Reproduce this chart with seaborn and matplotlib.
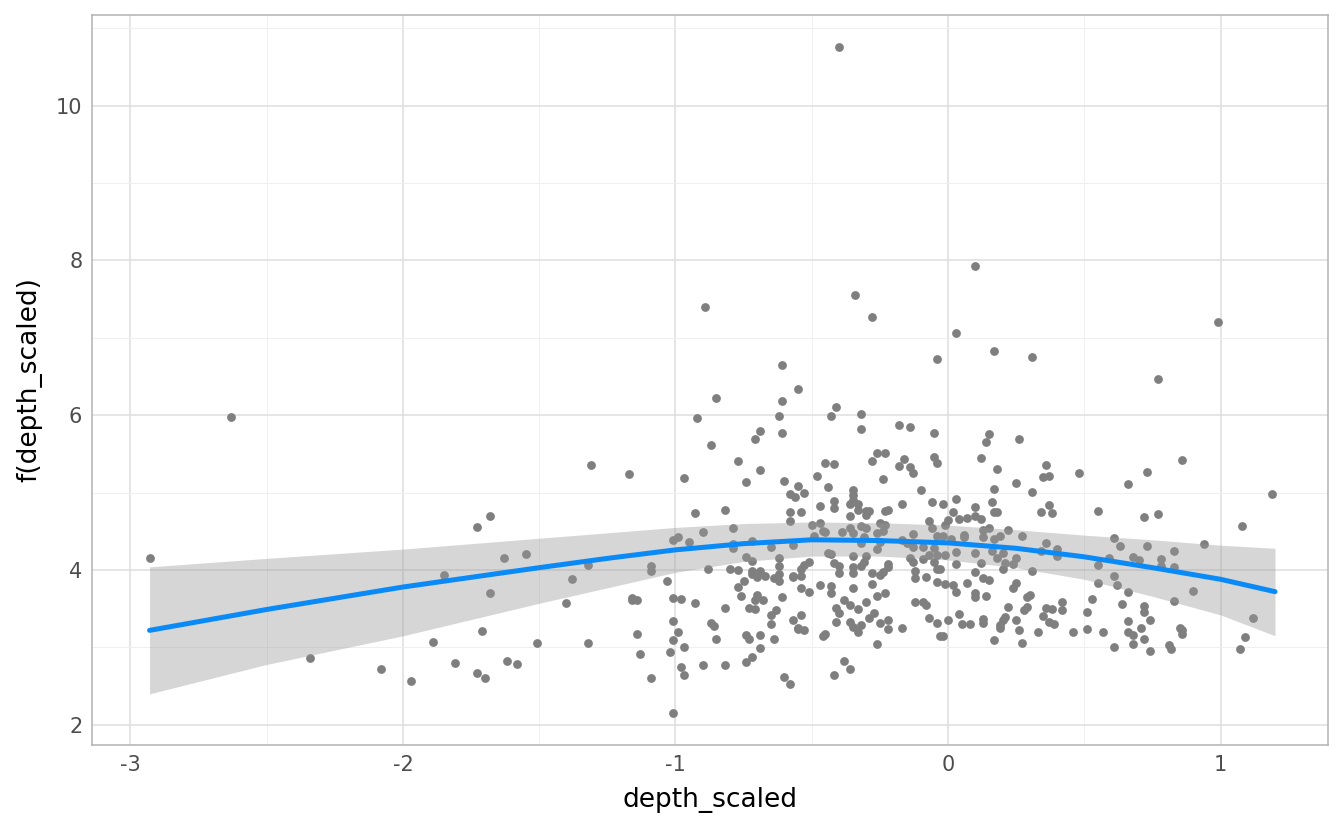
import matplotlib
matplotlib.use("Agg")
import matplotlib.pyplot as plt
import seaborn as sns
import pandas as pd
from matplotlib.ticker import MultipleLocator

# scatter points
depth_x = [
    -2.93, -2.63, -2.34, -2.08, -1.97, -1.89, -1.85, -1.81, -1.73, -1.73, -1.71, -1.70, -1.68, -1.68,
    -1.63, -1.62, -1.58, -1.55, -1.51, -1.40, -1.38, -1.31, -1.32, -1.32, -1.17, -1.16, -1.16, -1.14,
    -1.14, -1.13, -1.09, -1.09, -1.09,
    -0.89, -0.61, -0.55, -0.85, -0.61, -0.92, -0.62, -0.69, -0.71, -0.61, -0.87, -0.77, -0.69, -0.97,
    -0.74, -0.60, -0.55, -0.58, -0.56, -0.93, -0.82, -0.58, -0.58, -0.79, -0.90, -1.01, -0.99, -0.95,
    -0.79, -0.79, -0.72, -0.65, -0.57, -0.74, -0.72, -0.62, -0.62, -0.88, -0.80, -0.77, -0.72, -0.72,
    -0.69, -0.70, -0.67, -0.64, -0.62, -0.62, -0.57, -1.03, -0.75, -0.77, -0.76, -0.70, -0.71, -0.68,
    -0.61, -1.01, -0.98, -0.93, -0.82, -0.73, -0.71, -0.65, -0.63, -0.57, -0.55, -1.01, -0.87, -0.86,
    -0.65, -0.99, -1.01, -0.85, -0.74, -0.73, -0.69, -0.64, -0.97, -1.02, -0.69, -0.72, -0.74, -0.90,
    -0.82, -0.98, -0.97, -0.60, -0.58, -1.01, -0.40,
    -0.34, -0.28, -0.04, -0.41, -0.43, -0.32, -0.32, -0.18, -0.14, -0.05, -0.26, -0.23, -0.28, -0.45,
    -0.42, -0.16, -0.18, -0.14, -0.13, -0.05, -0.04, -0.48, -0.24, -0.44, -0.10, -0.53, -0.35, -0.35,
    -0.35, -0.42, -0.42, -0.47, -0.36, -0.33, -0.33, -0.17, -0.06, -0.54, -0.36, -0.30, -0.29, -0.30,
    -0.23, -0.22, -0.50, -0.47, -0.07, -0.46, -0.45, -0.36, -0.32, -0.30, -0.25, -0.23, -0.06, -0.35,
    -0.39, -0.26, -0.24, -0.13, -0.49, -0.31, -0.32, -0.25, -0.17, -0.15, -0.04, -0.13, -0.09, -0.26,
    -0.44, -0.43, -0.35, -0.30, -0.14, -0.13, -0.09, -0.07, -0.05, -0.04, -0.31, -0.32, -0.42, -0.40,
    -0.51, -0.53, -0.35, -0.35, -0.40, -0.22, -0.22, -0.28, -0.25, -0.24, -0.12, -0.12, -0.08, -0.04,
    -0.04, -0.54, -0.54, -0.57, -0.47, -0.43, -0.43, -0.35, -0.28, -0.54, -0.51, -0.26, -0.23, -0.38,
    -0.36, -0.30, -0.12, -0.09, -0.08, -0.41, -0.40, -0.33, -0.27, -0.54, -0.41, -0.36, -0.29, -0.25,
    -0.22, -0.22, -0.17, -0.07, -0.04, -0.55, -0.53, -0.35, -0.33, -0.32, -0.46, -0.45, -0.03, -0.26,
    -0.38, -0.36, -0.42,
    0.10, 0.03, 0.17, 0.31, 0.15, 0.14, 0.26, 0.12, 0.18, 0.36, 0.35, 0.37, 0.48, 0.25, 0.17, 0.31,
    -0.02, 0.03, 0.16, 0.17, 0.18, 0.10, 0.10, 0.12, 0.02, 0.04, 0.07, 0.34, 0.37, 0.38, 0.00, -0.01,
    0.13, 0.15, 0.22, 0.13, 0.06, 0.06, -0.02, 0.01, 0.19, 0.27, 0.17, 0.36, 0.40, 0.40, 0.34, -0.05,
    0.03, -0.01, 0.10, 0.16, 0.18, 0.20, -0.03, 0.03, 0.12, 0.21, 0.24, 0.25, 0.20, 0.31, 0.10, 0.13,
    0.15, -0.01, 0.02, 0.03, 0.07, 0.10, 0.10, 0.14, 0.25, 0.24, 0.29, 0.30, 0.42, 0.22, 0.28, 0.29,
    0.36, 0.38, 0.42, 0.04, 0.35, 0.00, 0.05, 0.08, 0.13, 0.13, 0.20, 0.21, 0.19, 0.19, 0.25, 0.26,
    0.37, 0.39, -0.02, 0.33, 0.46, 0.17, 0.27,
    0.99, 0.77, 0.86, 0.73, 0.66, 1.19, 0.55, 0.72, 0.77, 1.08, 0.61, 0.63, 0.73, 0.94, 0.83, 0.59,
    0.68, 0.70, 0.78, 0.55, 0.78, 0.83, 0.61, 0.55, 0.62, 0.66, 0.90, 0.53, 0.83, 0.64, 0.72, 0.72,
    0.51, 1.12, 0.66, 0.74, 0.51, 0.57, 0.66, 0.71, 0.68, 0.85, 0.86, 0.86, 0.72, 1.09, 0.61, 0.68,
    0.74, 0.81, 0.82, 1.07,
]
f_y = [
    4.15, 5.98, 2.86, 2.72, 2.57, 3.07, 3.94, 2.80, 4.56, 2.67, 3.21, 2.60, 4.70, 3.70,
    4.16, 2.83, 2.79, 4.21, 3.06, 3.57, 3.88, 5.36, 4.06, 3.06, 5.24, 3.64, 3.61, 3.61,
    3.17, 2.91, 4.05, 3.99, 2.60,
    7.40, 6.65, 6.34, 6.22, 6.18, 5.96, 5.99, 5.80, 5.69, 5.77, 5.61, 5.41, 5.29, 5.19,
    5.14, 5.15, 5.09, 4.98, 4.94, 4.74, 4.78, 4.75, 4.63, 4.54, 4.49, 4.39, 4.43, 4.36,
    4.34, 4.28, 4.37, 4.30, 4.32, 4.17, 4.12, 4.16, 4.05, 4.01, 4.01, 4.00, 3.99, 3.95,
    3.99, 3.91, 3.92, 3.90, 3.95, 3.86, 3.92, 3.86, 3.86, 3.78, 3.66, 3.68, 3.61, 3.61,
    3.65, 3.64, 3.63, 3.57, 3.51, 3.51, 3.50, 3.42, 3.48, 3.35, 3.24, 3.34, 3.32, 3.28,
    3.30, 3.20, 3.10, 3.11, 3.16, 3.11, 3.16, 3.11, 3.01, 2.94, 2.99, 2.88, 2.81, 2.77,
    2.77, 2.75, 2.64, 2.62, 2.53, 2.15, 10.76,
    7.55, 7.27, 6.73, 6.11, 5.99, 6.02, 5.82, 5.87, 5.85, 5.77, 5.51, 5.51, 5.41, 5.38,
    5.37, 5.43, 5.34, 5.33, 5.25, 5.46, 5.38, 5.21, 5.18, 5.07, 5.03, 4.99, 5.03, 4.97,
    4.90, 4.89, 4.80, 4.83, 4.85, 4.85, 4.78, 4.85, 4.88, 4.75, 4.70, 4.76, 4.76, 4.71,
    4.76, 4.78, 4.58, 4.61, 4.63, 4.50, 4.49, 4.54, 4.57, 4.54, 4.61, 4.58, 4.54, 4.48,
    4.49, 4.48, 4.50, 4.47, 4.44, 4.43, 4.35, 4.36, 4.39, 4.35, 4.44, 4.30, 4.30, 4.27,
    4.22, 4.21, 4.18, 4.18, 4.16, 4.10, 4.14, 4.19, 4.10, 4.19, 4.10, 4.05, 4.09, 4.05,
    4.10, 4.06, 4.04, 3.96, 3.96, 4.08, 4.04, 3.96, 3.94, 3.97, 3.99, 3.90, 3.91, 4.01,
    3.84, 4.01, 3.92, 3.91, 3.81, 3.79, 3.70, 3.77, 3.82, 3.77, 3.72, 3.66, 3.70, 3.61,
    3.55, 3.59, 3.59, 3.59, 3.55, 3.51, 3.44, 3.50, 3.44, 3.42, 3.33, 3.33, 3.38, 3.32,
    3.35, 3.24, 3.25, 3.38, 3.32, 3.25, 3.22, 3.26, 3.20, 3.29, 3.15, 3.17, 3.15, 3.04,
    2.82, 2.72, 2.64,
    7.93, 7.06, 6.83, 6.75, 5.76, 5.65, 5.69, 5.45, 5.30, 5.36, 5.20, 5.21, 5.25, 5.12, 5.04, 5.01,
    4.85, 4.92, 4.88, 4.75, 4.75, 4.82, 4.70, 4.66, 4.75, 4.66, 4.67, 4.75, 4.84, 4.74, 4.65, 4.58,
    4.52, 4.54, 4.52, 4.43, 4.45, 4.43, 4.44, 4.40, 4.44, 4.44, 4.40, 4.35, 4.27, 4.18, 4.25, 4.28,
    4.23, 4.19, 4.22, 4.25, 4.16, 4.22, 4.01, 4.08, 4.09, 4.09, 4.08, 4.16, 4.01, 3.99, 3.97, 3.90,
    3.87, 3.82, 3.81, 3.72, 3.83, 3.70, 3.65, 3.66, 3.83, 3.77, 3.65, 3.68, 3.59, 3.52, 3.48, 3.52,
    3.51, 3.50, 3.48, 3.43, 3.41, 3.35, 3.30, 3.30, 3.37, 3.32, 3.35, 3.39, 3.29, 3.25, 3.35, 3.22,
    3.33, 3.30, 3.15, 3.20, 3.20, 3.10, 3.06,
    7.20, 6.47, 5.42, 5.27, 5.11, 4.98, 4.76, 4.68, 4.72, 4.57, 4.41, 4.31, 4.31, 4.34, 4.25, 4.16,
    4.17, 4.13, 4.14, 4.06, 4.05, 4.04, 3.92, 3.83, 3.81, 3.72, 3.73, 3.63, 3.60, 3.56, 3.53, 3.46,
    3.46, 3.38, 3.34, 3.35, 3.24, 3.20, 3.20, 3.25, 3.16, 3.25, 3.22, 3.17, 3.11, 3.13, 3.01, 3.04,
    2.95, 3.03, 2.98, 2.98,
]

# smooth fit and its confidence band
fit_x = [-2.93, -2.5, -2.0, -1.5, -1.25, -1.0, -0.75, -0.5, -0.25, 0.0, 0.25, 0.5, 0.75, 1.0, 1.2]
fit_y = [3.22, 3.49, 3.78, 4.03, 4.15, 4.26, 4.34, 4.39, 4.38, 4.35, 4.28, 4.17, 4.03, 3.88, 3.72]
fit_hi = [4.04, 4.15, 4.27, 4.41, 4.48, 4.55, 4.60, 4.62, 4.61, 4.58, 4.52, 4.45, 4.39, 4.32, 4.28]
fit_lo = [2.40, 2.78, 3.15, 3.57, 3.77, 3.97, 4.11, 4.18, 4.18, 4.13, 4.03, 3.88, 3.66, 3.42, 3.15]

pts = pd.DataFrame({'depth_scaled': depth_x, 'f': f_y})
fit = pd.DataFrame({'depth_scaled': fit_x, 'f': fit_y, 'lo': fit_lo, 'hi': fit_hi})

sns.set_style('white')
plt.rcParams['font.family'] = ['DejaVu Sans']
plt.rcParams['axes.unicode_minus'] = False

fig, ax = plt.subplots(figsize=(13.44, 8.30), dpi=100)
fig.subplots_adjust(left=0.0685, right=0.988, top=0.982, bottom=0.1024)

sns.scatterplot(data=pts, x='depth_scaled', y='f', color='#7f7f7f', s=40,
                linewidth=0, ax=ax, zorder=2)
ax.fill_between(fit['depth_scaled'], fit['lo'], fit['hi'], color='#999999',
                alpha=0.4, linewidth=0, zorder=3)
sns.lineplot(data=fit, x='depth_scaled', y='f', color='#0a8af7', linewidth=3.6,
             ax=ax, zorder=4)

ax.set_xlim(-3.141, 1.394)
ax.set_ylim(1.739, 11.17)
ax.xaxis.set_major_locator(MultipleLocator(1))
ax.xaxis.set_minor_locator(MultipleLocator(0.5))
ax.yaxis.set_major_locator(MultipleLocator(2))
ax.yaxis.set_minor_locator(MultipleLocator(1))

ax.grid(which='major', color='#dedede', linewidth=1.1)
ax.grid(which='minor', color='#efefef', linewidth=0.7)
ax.set_axisbelow(True)
for sp in ax.spines.values():
    sp.set_color('#b3b3b3')
    sp.set_linewidth(1.1)

ax.tick_params(which='major', length=4, width=1.0, color='#b3b3b3',
               labelcolor='#4d4d4d', labelsize=15, pad=3)
ax.tick_params(which='minor', length=0)
ax.set_xlabel('depth_scaled', fontsize=19, color='black', labelpad=9)
ax.set_ylabel('f(depth_scaled)', fontsize=19, color='black', labelpad=10)

fig.savefig('out.png', dpi=100)
